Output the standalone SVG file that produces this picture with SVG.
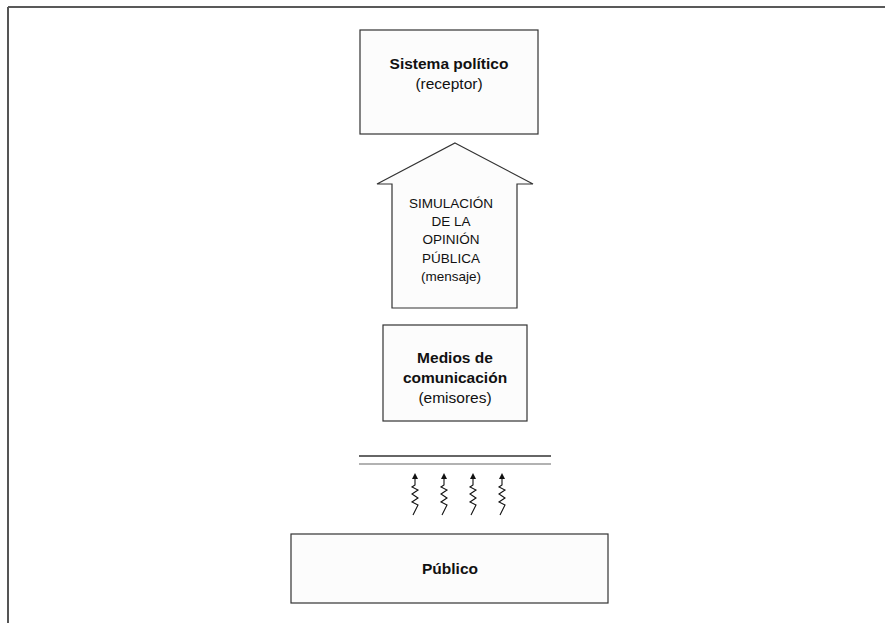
<svg xmlns="http://www.w3.org/2000/svg" width="885" height="623" viewBox="0 0 885 623">
<defs>
<style>
.box{fill:#fcfcfc;stroke:#333;stroke-width:1.2}
.t{font-family:"Liberation Sans",Arial,sans-serif;fill:#111;text-anchor:middle}
.b{font-weight:bold;font-size:15.5px}
.r{font-size:15.5px}
.s{font-size:13.5px}
.spring{fill:none;stroke:#111;stroke-width:1.1}
</style>
<marker id="ah" viewBox="0 0 6 6" refX="0" refY="3" markerWidth="6" markerHeight="6" markerUnits="userSpaceOnUse" orient="auto">
<path d="M0,0 L6,3 L0,6 Z" fill="#111"/>
</marker>
</defs>
<rect width="885" height="623" fill="#fff"/>
<g id="frame">
<line x1="8" y1="7" x2="885" y2="7" stroke="#222" stroke-width="1.5"/>
<line x1="8" y1="7" x2="8" y2="623" stroke="#555" stroke-width="2"/>
</g>
<g id="sistema">
<rect class="box" x="360" y="30" width="178" height="104"/>
<text class="t b" x="449" y="69">Sistema político</text>
<text class="t r" x="449" y="89">(receptor)</text>
</g>
<g id="simulacion">
<path class="box" d="M455,143 L533,184 L517,184 L517,308 L392,308 L392,184 L377,184 Z"/>
<text class="t s" x="451" y="208">SIMULACIÓN</text>
<text class="t s" x="451" y="226">DE LA</text>
<text class="t s" x="451" y="244">OPINIÓN</text>
<text class="t s" x="451" y="263">PÚBLICA</text>
<text class="t s" x="451" y="281">(mensaje)</text>
</g>
<g id="medios">
<rect class="box" x="383" y="325" width="144" height="96"/>
<text class="t b" x="455" y="363">Medios de</text>
<text class="t b" x="455" y="383">comunicación</text>
<text class="t r" x="455" y="403">(emisores)</text>
</g>
<g id="connectors">
<line x1="359" y1="456" x2="551" y2="456" stroke="#333" stroke-width="1.6"/>
<line x1="359" y1="464" x2="551" y2="464" stroke="#666" stroke-width="1.2"/>
<path class="spring" marker-end="url(#ah)" d="M413,515 L418,505 L412,502 L418,498 L412,494 L418,490 L412,487 L415,485 L415,479"/>
<path class="spring" marker-end="url(#ah)" d="M442,515 L447,505 L441,502 L447,498 L441,494 L447,490 L441,487 L444,485 L444,479"/>
<path class="spring" marker-end="url(#ah)" d="M471,515 L476,505 L470,502 L476,498 L470,494 L476,490 L470,487 L473,485 L473,479"/>
<path class="spring" marker-end="url(#ah)" d="M500,515 L505,505 L499,502 L505,498 L499,494 L505,490 L499,487 L502,485 L502,479"/>
</g>
<g id="publico">
<rect class="box" x="291" y="534" width="317" height="69"/>
<text class="t b" x="450" y="574">Público</text>
</g>
</svg>
